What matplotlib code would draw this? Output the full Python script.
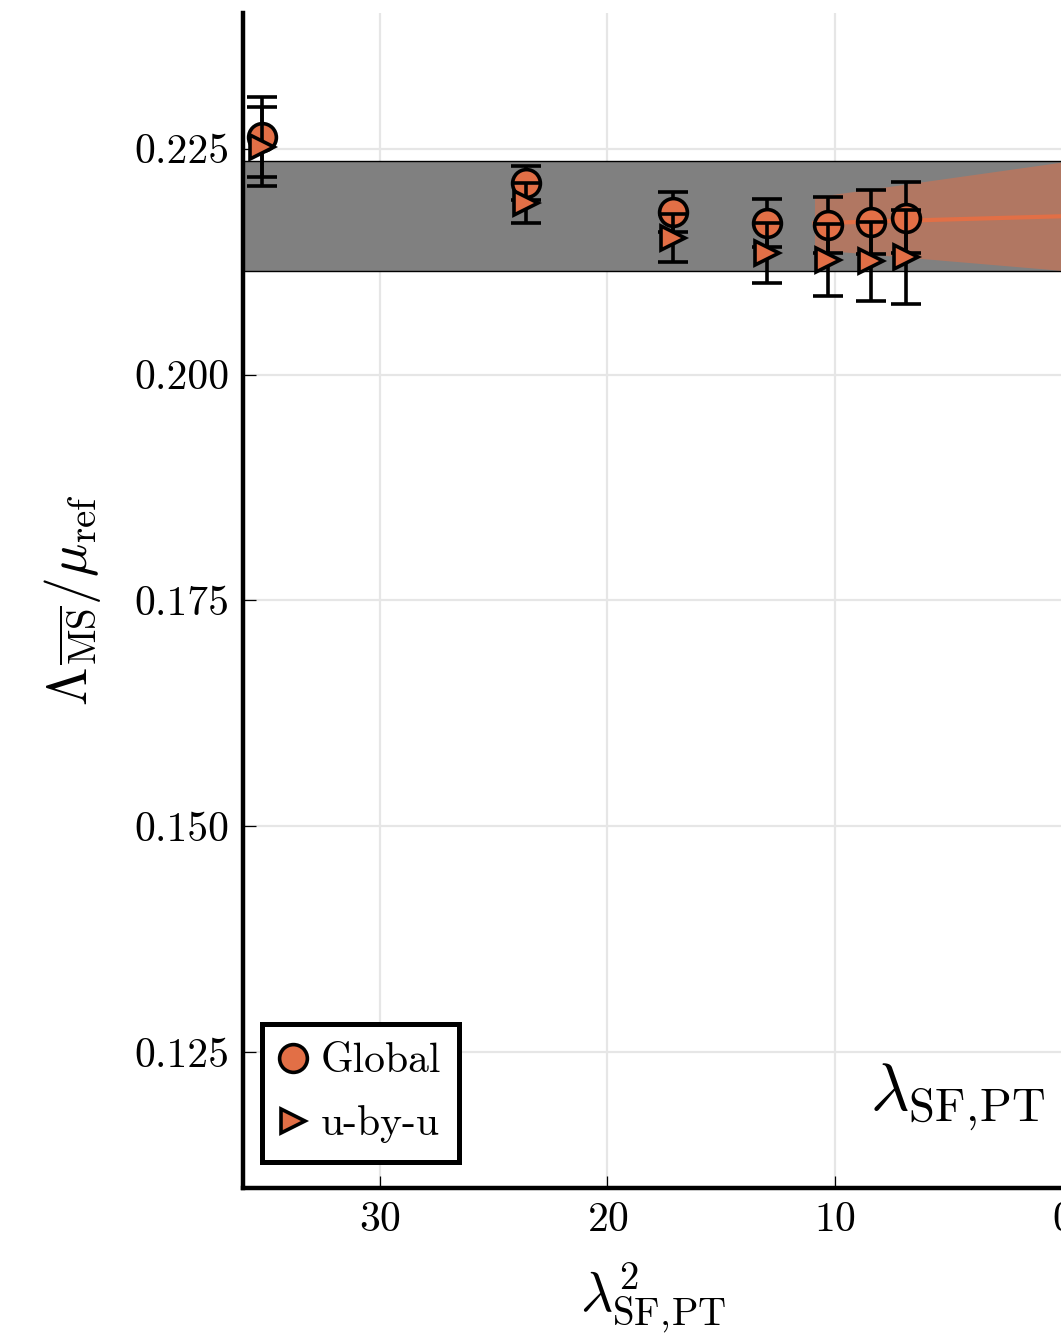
import numpy as np
import matplotlib
matplotlib.use("Agg")
import matplotlib.pyplot as plt
from matplotlib.lines import Line2D
from matplotlib.ticker import FormatStrFormatter

plt.rcParams['font.family'] = 'cmr10'
plt.rcParams['mathtext.fontset'] = 'cm'
plt.rcParams['axes.formatter.use_mathtext'] = True

ORANGE = '#E26F46'

# lambda^2 values of the runs
lam2 = [35.2, 23.6, 17.1, 13.0, 10.3, 8.4, 6.9]

# Lambda/mu_ref, global fit
glob_val = [0.22625, 0.22122, 0.21800, 0.21676, 0.21654, 0.21685, 0.21735]
glob_err = [0.00442, 0.00190, 0.00218, 0.00265, 0.00313, 0.00351, 0.00393]

# Lambda/mu_ref, step-by-step
uby_val = [0.22519, 0.21895, 0.21513, 0.21342, 0.21267, 0.21252, 0.21298]
uby_err = [0.00439, 0.00221, 0.00263, 0.00332, 0.00393, 0.00434, 0.00517]

# final value (band) and linear extrapolation in lambda^2
final_val = 0.21751
final_err = 0.00610
fit_x = [10.9, 0.0]
fit_val = [0.21674, 0.21751]
fit_err = [0.00290, 0.00600]

fig = plt.figure(figsize=(10.61, 13.35), dpi=100)
ax = fig.add_axes([0.2295, 0.1101, 0.7719, 0.8802])

xlim = (36, 0)
ax.fill_between(xlim, final_val - final_err, final_val + final_err,
                color='#808080', edgecolor='black', linewidth=1.0, zorder=1)

fx = np.array(fit_x)
fv = np.array(fit_val)
fe = np.array(fit_err)
ax.fill_between(fx, fv - fe, fv + fe, color=ORANGE, alpha=0.5, linewidth=0, zorder=2)
ax.plot(fx, fv, color=ORANGE, lw=3.0, zorder=3)

ax.errorbar(lam2, glob_val, yerr=glob_err, fmt='none', ecolor='black',
            elinewidth=2.6, capsize=10.5, capthick=2.6, zorder=4)
ax.plot(lam2, glob_val, 'o', ms=20, mfc=ORANGE, mec='black', mew=2.6, zorder=5)
ax.errorbar(lam2, uby_val, yerr=uby_err, fmt='none', ecolor='black',
            elinewidth=2.6, capsize=10.5, capthick=2.6, zorder=6)
ax.plot(lam2, uby_val, '>', ms=17, mfc=ORANGE, mec='black', mew=2.6, zorder=7)

ax.set_xlim(*xlim)
ax.set_ylim(0.110, 0.240)
ax.set_xticks([30, 20, 10, 0])
ax.set_yticks([0.125, 0.150, 0.175, 0.200, 0.225])
ax.yaxis.set_major_formatter(FormatStrFormatter('%.3f'))
ax.tick_params(direction='in', length=9, width=0.9, labelsize=30, pad=10)
ax.grid(True, color='#E6E6E6', lw=1.6)
ax.set_axisbelow(True)

for side in ['top', 'right']:
    ax.spines[side].set_visible(False)
for side in ['left', 'bottom']:
    ax.spines[side].set_linewidth(3.2)

ax.set_xlabel(r'$\lambda^2_{\rm SF,\!PT}$', fontsize=40)
ax.xaxis.set_label_coords(0.5, -0.062)
ax.set_ylabel(r'$\Lambda_{\overline{\rm MS}}/\mu_{\rm ref}$', fontsize=40)
ax.yaxis.set_label_coords(-0.172, 0.5)

ax.text(0.765, 0.0664, r'$\lambda_{\rm SF,\!PT}$', transform=ax.transAxes,
        fontsize=48, ha='left', va='baseline')

handles = [
    Line2D([], [], marker='o', ls='none', ms=20, mfc=ORANGE, mec='black', mew=2.6),
    Line2D([], [], marker='>', ls='none', ms=17, mfc=ORANGE, mec='black', mew=2.6),
]
leg = ax.legend(handles, ['Global', 'u-by-u'], loc='lower left',
                bbox_to_anchor=(0.0226, 0.0221), borderaxespad=0,
                fontsize=30, fancybox=False, framealpha=1,
                handlelength=0.6, handletextpad=0.35, borderpad=0.45,
                labelspacing=0.6)
leg.get_frame().set_edgecolor('black')
leg.get_frame().set_linewidth(3.6)

fig.savefig('out.png', dpi=100)
